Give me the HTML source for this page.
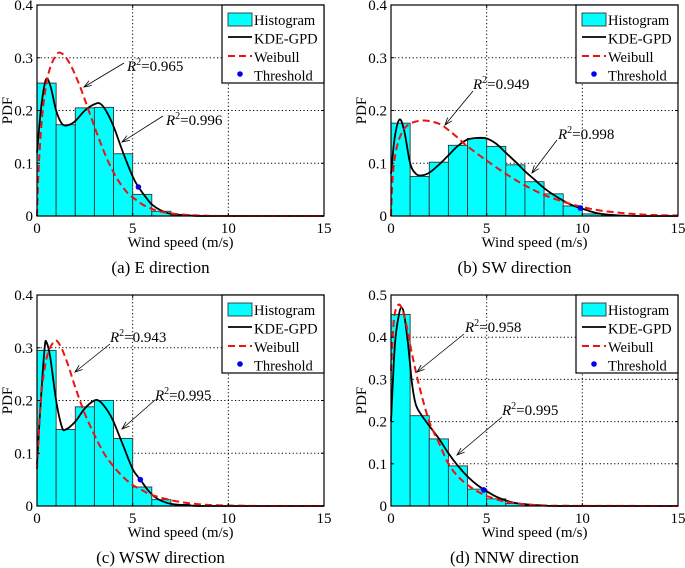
<!DOCTYPE html>
<html><head><meta charset="utf-8">
<style>
html,body{margin:0;padding:0;background:#fff;}
svg{display:block;font-family:"Liberation Serif",serif;}
</style></head>
<body>
<svg id="fig" width="685" height="568" viewBox="0 0 685 568" xmlns="http://www.w3.org/2000/svg"></svg>
<script>
// ---- data ----
const binEdges = [0,1,2,3,4,5,6,7,8,9,10,11,12];
const histA = [0.252,0.173,0.205,0.206,0.118,0.041,0.009,0.002];
const histB = [0.176,0.075,0.102,0.134,0.147,0.132,0.097,0.065,0.042,0.019,0.004,0.001];
const histC = [0.295,0.145,0.188,0.200,0.128,0.036,0.012,0.003];
const histD = [0.454,0.214,0.159,0.095,0.040,0.017,0.006,0.002];

const kdeAx = [0,0.2,0.4,0.55,0.75,1,1.3,1.6,2,2.5,3,3.3,3.6,4,4.5,5,5.3,5.7,6,6.5,7,8,9,15];
const kdeAy = [0.12,0.2,0.25,0.26,0.24,0.2,0.175,0.172,0.18,0.2,0.212,0.213,0.2,0.17,0.12,0.075,0.055,0.035,0.022,0.01,0.004,0.001,0,0];
const weiAx = [0,0.1,0.3,0.6,1,1.3,1.7,2.2,2.7,3.2,3.7,4.2,4.7,5.2,5.7,6.5,7.5,8.5,10,15];
const weiAy = [0,0.1,0.2,0.27,0.305,0.308,0.29,0.25,0.2,0.15,0.105,0.07,0.045,0.03,0.018,0.008,0.003,0.001,0,0];

const kdeBx = [0,0.2,0.45,0.7,1,1.3,1.6,2,2.5,3,3.5,4,4.5,5,5.5,6,6.5,7,7.5,8,8.5,9,9.5,10,10.5,11,12,13,15];
const kdeBy = [0.08,0.15,0.183,0.16,0.1,0.08,0.077,0.082,0.097,0.115,0.133,0.145,0.148,0.147,0.137,0.12,0.103,0.085,0.069,0.053,0.04,0.029,0.02,0.014,0.008,0.004,0.001,0,0];
const weiBx = [0,0.1,0.3,0.6,1,1.7,2.5,3,3.5,4,5,6,7,8,9,10,11,12,13,14,15];
const weiBy = [0,0.08,0.13,0.16,0.175,0.181,0.175,0.163,0.148,0.132,0.105,0.08,0.058,0.04,0.027,0.017,0.01,0.006,0.003,0.0015,0.001];

const kdeCx = [0,0.2,0.4,0.5,0.7,1,1.3,1.5,2,2.5,3,3.3,3.7,4,4.5,5,5.4,5.8,6.2,6.7,7.2,8,9,15];
const kdeCy = [0.08,0.2,0.3,0.31,0.28,0.2,0.15,0.145,0.16,0.185,0.2,0.198,0.18,0.16,0.115,0.07,0.05,0.03,0.016,0.007,0.003,0.001,0,0];
const weiCx = [0,0.2,0.5,0.9,1.2,1.6,2,2.5,3,3.5,4,4.5,5,5.5,6,7,8,9,10,12,15];
const weiCy = [0.07,0.2,0.28,0.312,0.305,0.27,0.225,0.175,0.135,0.1,0.075,0.055,0.04,0.03,0.021,0.011,0.005,0.002,0.001,0,0];

const kdeDx = [0,0.2,0.4,0.55,0.7,0.9,1.1,1.3,1.6,2,2.5,3,3.5,4,4.5,5,5.5,6,6.5,7,8,9,15];
const kdeDy = [0.2,0.38,0.45,0.47,0.45,0.38,0.29,0.24,0.215,0.19,0.16,0.125,0.095,0.07,0.05,0.035,0.022,0.013,0.007,0.004,0.001,0,0];
const weiDx = [0,0.15,0.35,0.55,0.8,1.1,1.5,2,2.5,3,3.5,4,4.5,5,5.5,6,7,8,9,15];
const weiDy = [0.32,0.44,0.475,0.47,0.43,0.36,0.28,0.2,0.15,0.1,0.07,0.05,0.035,0.024,0.016,0.01,0.004,0.0015,0.0005,0];

const thresholdA = [5.3,0.055];
const thresholdB = [9.9,0.015];
const thresholdC = [5.4,0.05];
const thresholdD = [4.85,0.038];

const xTicks = [0,5,10,15];
const yTicks4 = [0,0.1,0.2,0.3,0.4];
const yTicks5 = [0,0.1,0.2,0.3,0.4,0.5];
const yTickLabels4 = ["0","0.1","0.2","0.3","0.4"];
const yTickLabels5 = ["0","0.1","0.2","0.3","0.4","0.5"];
const captions = ["(a) E direction","(b) SW direction","(c) WSW direction","(d) NNW direction"];
const r2Weibull = ["0.965","0.949","0.943","0.958"];
const r2Kde = ["0.996","0.998","0.995","0.995"];

const NS = "http://www.w3.org/2000/svg";
const svg = document.getElementById('fig');
function mk(tag, attrs, parent){
  const e = document.createElementNS(NS, tag);
  for (const k in attrs) e.setAttribute(k, attrs[k]);
  (parent||svg).appendChild(e);
  return e;
}
function smoothPath(pts){
  let d = "M"+pts[0][0].toFixed(2)+","+pts[0][1].toFixed(2);
  for (let i=0;i<pts.length-1;i++){
    const p0=pts[Math.max(0,i-1)], p1=pts[i], p2=pts[i+1], p3=pts[Math.min(pts.length-1,i+2)];
    const c1=[p1[0]+(p2[0]-p0[0])/6, p1[1]+(p2[1]-p0[1])/6];
    const c2=[p2[0]-(p3[0]-p1[0])/6, p2[1]-(p3[1]-p1[1])/6];
    d += " C"+c1[0].toFixed(2)+","+c1[1].toFixed(2)+" "+c2[0].toFixed(2)+","+c2[1].toFixed(2)+" "+p2[0].toFixed(2)+","+p2[1].toFixed(2);
  }
  return d;
}

function panel(cfg){
  const g = mk('g', {});
  
  
  const L=cfg.left, R=cfg.left+287, T=cfg.top, B=cfg.top+211;
  const sx = v => L + v/15*(R-L);
  const sy = v => B - v/cfg.ymax*(B-T);
  xTicks.slice(1,-1).forEach(t=>{
    const l = mk('line',{x1:sx(t),x2:sx(t),y1:T,y2:B,stroke:'#000','stroke-width':1,'stroke-dasharray':'1.2,2.4'},g);
    
    
  });
  cfg.yTicks.slice(1,-1).forEach(t=>{
    const l = mk('line',{x1:L,x2:R,y1:sy(t),y2:sy(t),stroke:'#000','stroke-width':1,'stroke-dasharray':'1.2,2.4'},g);
    
    
  });
  cfg.hist.forEach((v,i)=>{
    const x0=sx(binEdges[i]), x1=sx(binEdges[i+1]);
    const r = mk('rect',{x:x0,y:sy(v),width:x1-x0,height:B-sy(v),fill:'#00ffff',stroke:'#333','stroke-width':0.9},g);
    
    
  });
  const kp = cfg.kx.map((x,i)=>[sx(x),sy(cfg.ky[i])]);
  const k = mk('path',{d:smoothPath(kp),fill:'none',stroke:'#000','stroke-width':1.8},g);
  
  
  const wp = cfg.wx.map((x,i)=>[sx(x),sy(cfg.wy[i])]);
  const w = mk('path',{d:smoothPath(wp),fill:'none',stroke:'#ee1111','stroke-width':2,'stroke-dasharray':'7,4'},g);
  
  
  const th = mk('circle',{cx:sx(cfg.th[0]),cy:sy(cfg.th[1]),r:2.8,fill:'#0000ee'},g);
  
  
  const fr = mk('rect',{x:L,y:T,width:R-L,height:B-T,fill:'none',stroke:'#000','stroke-width':1.2},g);
  
  
  xTicks.forEach(t=>{
    mk('line',{x1:sx(t),x2:sx(t),y1:B,y2:B-3,stroke:'#000'},g);
    mk('line',{x1:sx(t),x2:sx(t),y1:T,y2:T+3,stroke:'#000'},g);
    const tx = mk('text',{x:sx(t),y:B+17,'text-anchor':'middle','font-size':15},g);
    tx.textContent = String(t);
    
    
  });
  cfg.yTicks.forEach((t,i)=>{
    mk('line',{x1:L,x2:L+3,y1:sy(t),y2:sy(t),stroke:'#000'},g);
    mk('line',{x1:R,x2:R-3,y1:sy(t),y2:sy(t),stroke:'#000'},g);
    const tx = mk('text',{x:L-4,y:sy(t)+5,'text-anchor':'end','font-size':15},g);
    tx.textContent = cfg.yLabels[i];
    
    
  });
  const xt = mk('text',{x:(L+R)/2,y:B+31,'text-anchor':'middle','font-size':15},g);
  xt.textContent = 'Wind speed (m/s)';
  
  
  const yt = mk('text',{x:0,y:0,'text-anchor':'middle','font-size':15,transform:'translate('+(L-25)+','+((T+B)/2)+') rotate(-90)'},g);
  yt.textContent = 'PDF';
  
  
  const cap = mk('text',{x:(L+R)/2 - 20,y:B+57,'text-anchor':'middle','font-size':17},g);
  cap.textContent = cfg.caption;
  
  
  const lg = mk('g',{},g);
  
  
  const lx=R-102, ly=T;
  mk('rect',{x:lx,y:ly,width:102,height:78,fill:'#fff',stroke:'#000','stroke-width':1.2},lg);
  mk('rect',{x:lx+6,y:ly+8,width:24,height:13,fill:'#00ffff',stroke:'#333','stroke-width':0.9},lg);
  mk('line',{x1:lx+6,x2:lx+30,y1:ly+32,y2:ly+32,stroke:'#000','stroke-width':1.8},lg);
  mk('line',{x1:lx+6,x2:lx+30,y1:ly+51,y2:ly+51,stroke:'#ee1111','stroke-width':2,'stroke-dasharray':'7,4'},lg);
  mk('circle',{cx:lx+18,cy:ly+69,r:2.8,fill:'#0000ee'},lg);
  ['Histogram','KDE-GPD','Weibull','Threshold'].forEach((s,i)=>{
    const t = mk('text',{x:lx+32,y:ly+20+i*18.5,'font-size':14.5},lg);
    t.textContent = s;
    
    
  });
  function annot(txt, tx, ty, ax1, ay1, ax2, ay2, nm){
    const a = mk('g',{},g);
    
    
    mk('line',{x1:ax1,y1:ay1,x2:ax2,y2:ay2,stroke:'#000','stroke-width':0.8},a);
    const ang = Math.atan2(ay2-ay1, ax2-ax1);
    const hl=8, hw=0.35;
    const p1=[ax2-hl*Math.cos(ang-hw), ay2-hl*Math.sin(ang-hw)];
    const p2=[ax2-hl*Math.cos(ang+hw), ay2-hl*Math.sin(ang+hw)];
    mk('polyline',{points:p1.join(',')+' '+ax2+','+ay2+' '+p2.join(','),fill:'none',stroke:'#000','stroke-width':0.8},a);
    const t = mk('text',{x:tx,y:ty,'font-size':15},a);
    const r = mk('tspan',{'font-style':'italic'},t); r.textContent='R';
    const s = mk('tspan',{dy:-6,'font-size':10},t); s.textContent='2';
    const v = mk('tspan',{dy:6},t); v.textContent='='+txt;
  }
  const A = cfg.ann;
  annot(cfg.r2w, A[0][0],A[0][1],A[0][2],A[0][3],A[0][4],A[0][5],'weibull-r2-annotation');
  annot(cfg.r2k, A[1][0],A[1][1],A[1][2],A[1][3],A[1][4],A[1][5],'kde-r2-annotation');
}

panel({name:'panel-a-e-direction',left:37,top:5,ymax:0.4,yTicks:yTicks4,yLabels:yTickLabels4,hist:histA,kx:kdeAx,ky:kdeAy,wx:weiAx,wy:weiAy,th:thresholdA,caption:captions[0],r2w:r2Weibull[0],r2k:r2Kde[0],
  ann:[[127,71,124,63,84,87],[166,125,163,116,122,142]]});
panel({name:'panel-b-sw-direction',left:391,top:5,ymax:0.4,yTicks:yTicks4,yLabels:yTickLabels4,hist:histB,kx:kdeBx,ky:kdeBy,wx:weiBx,wy:weiBy,th:thresholdB,caption:captions[1],r2w:r2Weibull[1],r2k:r2Kde[1],
  ann:[[473,89,473,91,445,125],[558,139,557,140,532,173]]});
panel({name:'panel-c-wsw-direction',left:37,top:295,ymax:0.4,yTicks:yTicks4,yLabels:yTickLabels4,hist:histC,kx:kdeCx,ky:kdeCy,wx:weiCx,wy:weiCy,th:thresholdC,caption:captions[2],r2w:r2Weibull[2],r2k:r2Kde[2],
  ann:[[110,342,110,344,75,372],[155,400,155,400,122,429]]});
panel({name:'panel-d-nnw-direction',left:391,top:295,ymax:0.5,yTicks:yTicks5,yLabels:yTickLabels5,hist:histD,kx:kdeDx,ky:kdeDy,wx:weiDx,wy:weiDy,th:thresholdD,caption:captions[3],r2w:r2Weibull[3],r2k:r2Kde[3],
  ann:[[465,332,464,334,417,372],[502,415,502,417,457,455]]});
</script>
</body></html>
